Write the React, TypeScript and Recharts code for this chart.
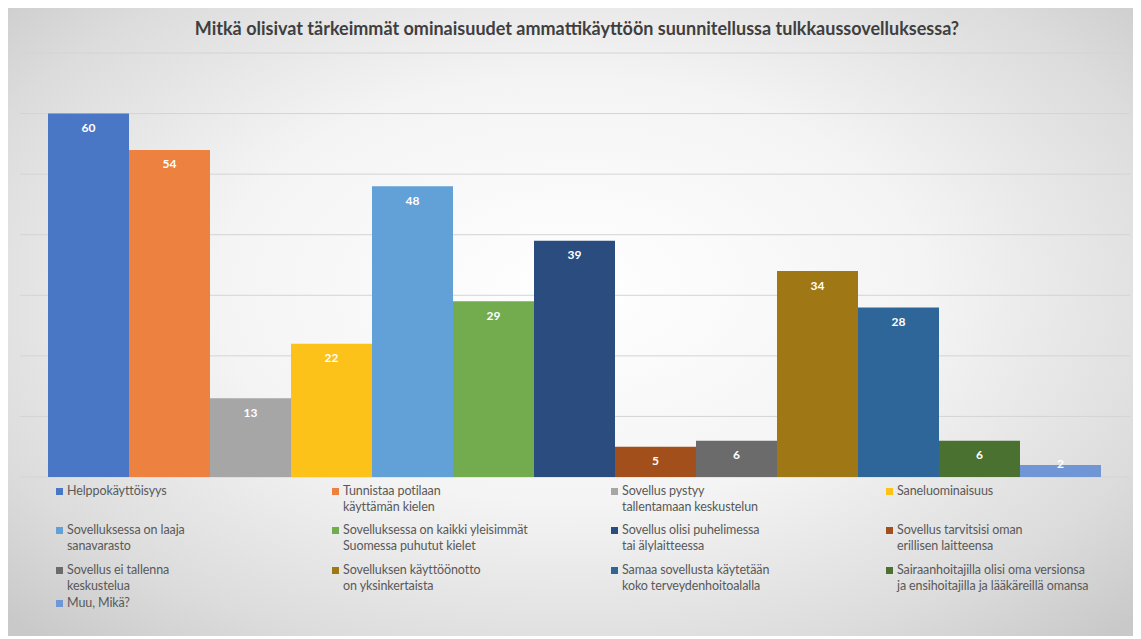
import React from "react";
import { BarChart, Bar, XAxis, YAxis, CartesianGrid, LabelList } from "recharts";

const title = "Mitkä olisivat tärkeimmät ominaisuudet ammattikäyttöön suunnitellussa tulkkaussovelluksessa?";

const seriesNames = [
  "Helppokäyttöisyys",
  "Tunnistaa potilaan\nkäyttämän kielen",
  "Sovellus pystyy\ntallentamaan keskustelun",
  "Saneluominaisuus",
  "Sovelluksessa on laaja\nsanavarasto",
  "Sovelluksessa on kaikki yleisimmät\nSuomessa puhutut kielet",
  "Sovellus olisi puhelimessa\ntai älylaitteessa",
  "Sovellus tarvitsisi oman\nerillisen laitteensa",
  "Sovellus ei tallenna\nkeskustelua",
  "Sovelluksen käyttöönotto\non yksinkertaista",
  "Samaa sovellusta käytetään\nkoko terveydenhoitoalalla",
  "Sairaanhoitajilla olisi oma versionsa\nja ensihoitajilla ja lääkäreillä omansa",
  "Muu, Mikä?",
];

const seriesValues = [60, 54, 13, 22, 48, 29, 39, 5, 6, 34, 28, 6, 2];

const seriesColors = [
  "#4a76c6",
  "#ed8140",
  "#a6a6a6",
  "#fcc21a",
  "#62a0d8",
  "#72ac4e",
  "#2b4c7f",
  "#a24f1c",
  "#6b6b6b",
  "#9f7815",
  "#2f6699",
  "#4a7130",
  "#7196d6",
];

const yTicks = [0, 10, 20, 30, 40, 50, 60, 70];

const categories = [""];

const data = categories.map((c) => {
  const row: Record<string, string | number> = { cat: c };
  seriesValues.forEach((v, i) => {
    row["s" + i] = v;
  });
  return row;
});

const FONT = "Lato, 'Open Sans', sans-serif";

const renderLabel = (props: any) => {
  const { x, y, width, height, value } = props;
  const cy = height >= 24 ? y + 14 : y + height / 2 - 7;
  return (
    <text
      x={x + width / 2}
      y={cy}
      textAnchor="middle"
      dominantBaseline="central"
      fill="#ffffff"
      fontWeight={700}
      fontSize={12}
      fontFamily={FONT}
    >
      {value}
    </text>
  );
};

const legendCols = [48, 324, 603, 878];
const legendRows = [475, 514, 554, 587];

export default function App() {
  return (
    <div
      style={{
        position: "relative",
        width: 1125,
        height: 628,
        background:
          "radial-gradient(ellipse 70% 75% at 50% 45%, #ffffff 0%, #f4f4f4 45%, #dcdcdc 80%, #c9c9c9 100%)",
        fontFamily: FONT,
      }}
    >
      <div
        style={{
          position: "absolute",
          top: 9,
          left: 0,
          width: 1138,
          textAlign: "center",
          fontSize: 18,
          fontWeight: 700,
          color: "#3f3f3f",
          lineHeight: "22px",
        }}
      >
        {title}
      </div>
      <BarChart
        width={1125}
        height={628}
        data={data}
        margin={{ top: 45, right: 3, bottom: 159, left: 12 }}
        barCategoryGap={28}
        barGap={0}
      >
        <CartesianGrid vertical={false} stroke="#d4d4d4" />
        <XAxis
          dataKey="cat"
          tick={false}
          tickLine={false}
          height={0}
          axisLine={{ stroke: "#bdbdbd" }}
        />
        <YAxis hide domain={[0, 70]} ticks={yTicks} width={0} />
        {seriesValues.map((_, i) => (
          <Bar
            key={i}
            dataKey={"s" + i}
            name={seriesNames[i]}
            fill={seriesColors[i]}
            isAnimationActive={false}
          >
            <LabelList dataKey={"s" + i} content={renderLabel} />
          </Bar>
        ))}
      </BarChart>
      {seriesNames.map((name, i) => {
        const col = i % 4;
        const row = Math.floor(i / 4);
        return (
          <div
            key={i}
            style={{
              position: "absolute",
              left: legendCols[col],
              top: legendRows[row],
              display: "flex",
              alignItems: "flex-start",
              fontSize: 12.5,
              letterSpacing: -0.1,
              lineHeight: "16px",
              color: "#595959",
            }}
          >
            <span
              style={{
                display: "inline-block",
                width: 7,
                height: 7,
                background: seriesColors[i],
                marginTop: 5,
                marginRight: 4,
                flex: "none",
              }}
            />
            <span style={{ whiteSpace: "pre" }}>{name}</span>
          </div>
        );
      })}
    </div>
  );
}
